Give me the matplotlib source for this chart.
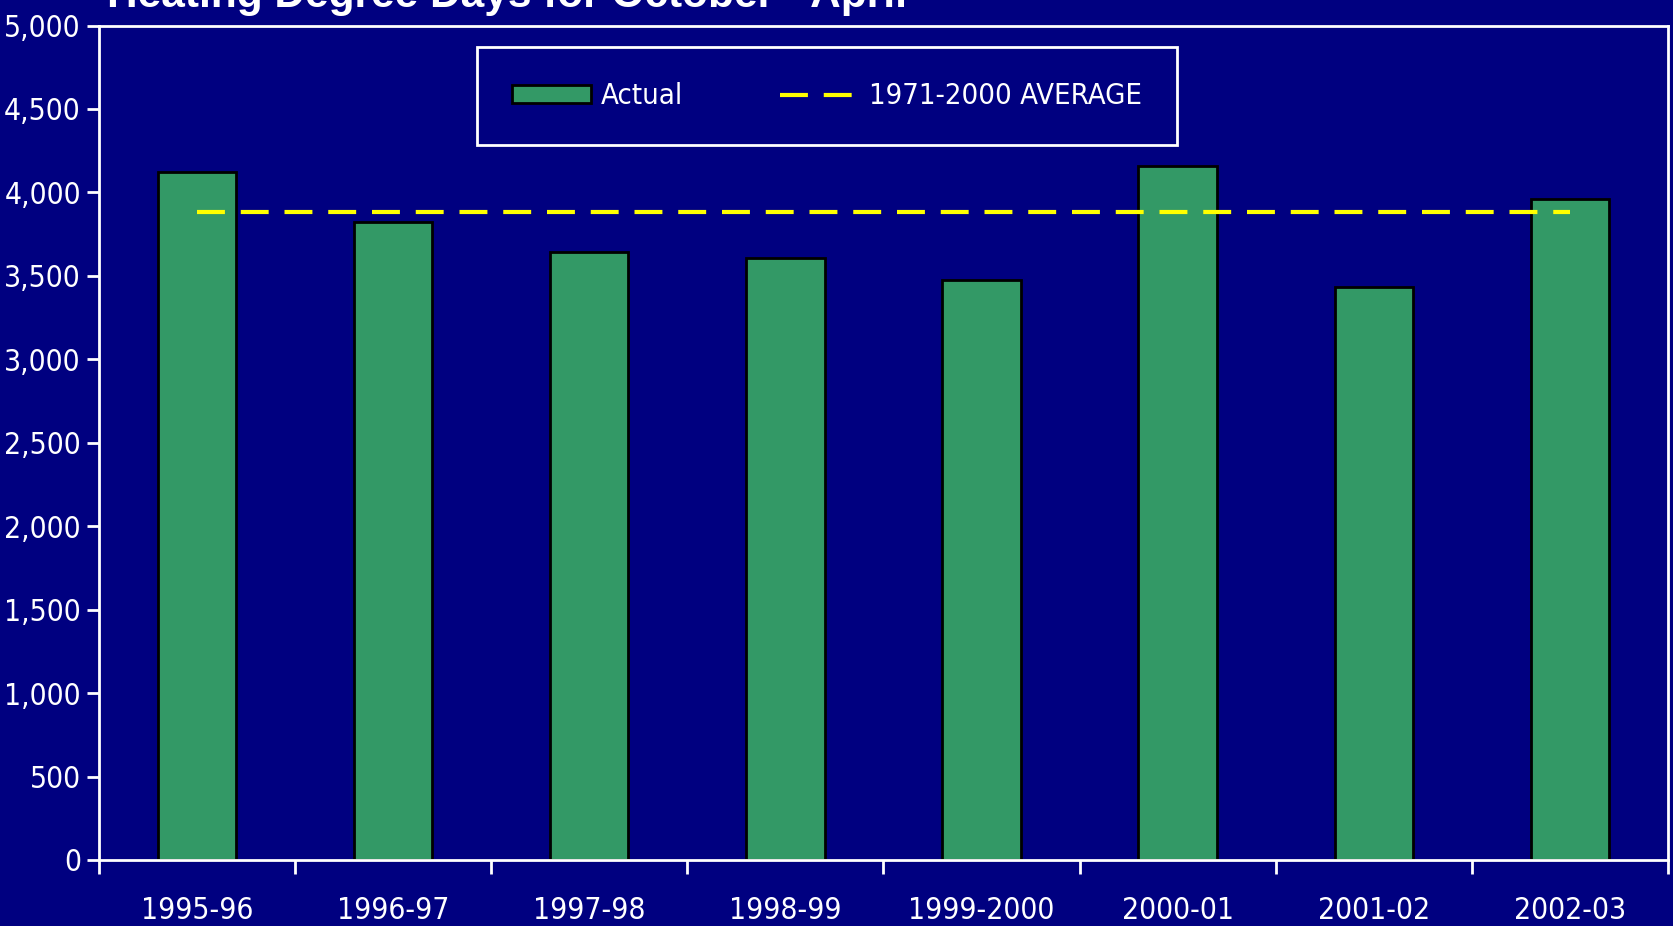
import matplotlib
matplotlib.use("Agg")
import matplotlib.pyplot as plt
from matplotlib.ticker import FuncFormatter, FixedLocator

plt.rcParams['font.family'] = ['DejaVu Sans']
plt.rcParams['font.stretch'] = 'condensed'

# data
seasons = ["1995-96", "1996-97", "1997-98", "1998-99", "1999-2000", "2000-01", "2001-02", "2002-03"]
actual = [4120, 3820, 3645, 3610, 3478, 4160, 3432, 3958]
average_1971_2000 = [3880, 3880, 3880, 3880, 3880, 3880, 3880, 3880]

navy = "#000080"
green = "#339966"
yellow = "#FFFF00"

fig = plt.figure(figsize=(16.74, 9.26), dpi=100, facecolor=navy)
ax = fig.add_axes([0.0591, 0.0713, 0.9373, 0.9011])
ax.set_facecolor(navy)

x = list(range(len(seasons)))
bars = ax.bar(x, actual, width=0.4, color=green, edgecolor="black", linewidth=2, label="Actual", zorder=2)
line, = ax.plot(x, average_1971_2000, color=yellow, linewidth=3, dashes=(6.7, 3.8),
                label="1971-2000 AVERAGE", zorder=3)

ax.set_xlim(-0.5, len(seasons) - 0.5)
ax.set_ylim(0, 5000)
ax.set_yticks(range(0, 5001, 500))
ax.yaxis.set_major_formatter(FuncFormatter(lambda v, p: f"{int(v):,}"))

# category labels centred, ticks on the boundaries
ax.set_xticks(x)
ax.set_xticklabels(seasons)
ax.xaxis.set_minor_locator(FixedLocator([i - 0.5 for i in range(len(seasons) + 1)]))
ax.tick_params(axis="x", which="major", length=0, pad=26, labelsize=21.5, colors="white")
ax.tick_params(axis="x", which="minor", length=10, width=2, colors="white", direction="out")
ax.tick_params(axis="y", length=9, width=2, labelsize=21.5, colors="white", direction="out", pad=4)

for s in ax.spines.values():
    s.set_color("white")
    s.set_linewidth(2)

leg = ax.legend([bars, line], ["Actual", "1971-2000 AVERAGE"],
                loc="center", bbox_to_anchor=(0.494, 0.896), bbox_transform=fig.transFigure,
                ncol=2, fontsize=21, frameon=True, fancybox=False, facecolor=navy, framealpha=1,
                edgecolor="white", handlelength=2.7, handleheight=0.6, columnspacing=3.3,
                borderpad=1.2, borderaxespad=0, handletextpad=0.35)
leg.get_frame().set_linewidth(2)
for t in leg.get_texts():
    t.set_color("white")

fig.text(0.064, 1 - 7 / 926, "Heating Degree Days for October - April", color="white",
         fontsize=30.5, fontweight="bold", family=["Liberation Sans", "DejaVu Sans"],
         fontstretch="normal", ha="left", va="baseline")

fig.savefig("out.png", dpi=100, facecolor=navy)
